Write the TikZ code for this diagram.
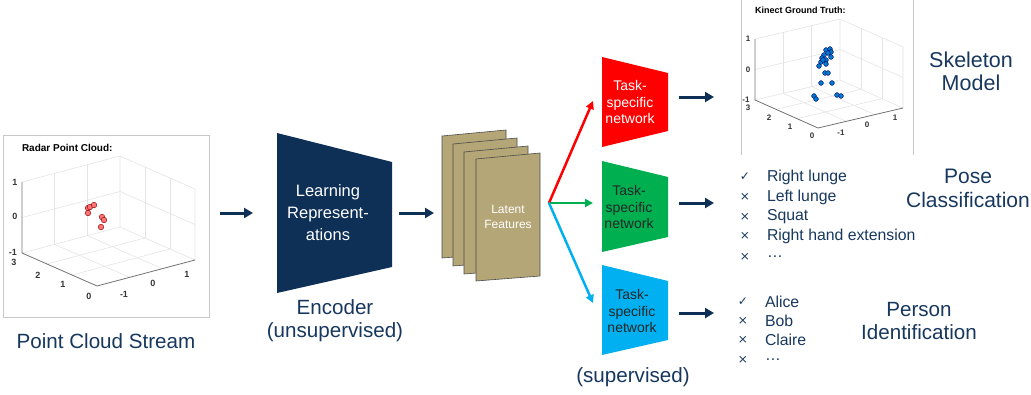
\documentclass[tikz,border=0pt]{standalone}
\usepackage{fontspec}
\setmainfont{Liberation Sans}
\newfontfamily\symfont{DejaVu Sans}
\usetikzlibrary{arrows.meta,calc}

\definecolor{navy}{HTML}{0E2F56}
\definecolor{txtblue}{HTML}{17375E}
\definecolor{latent}{HTML}{B5A677}
\definecolor{netred}{HTML}{FF0000}
\definecolor{netgreen}{HTML}{00B050}
\definecolor{netblue}{HTML}{00B0F0}
\definecolor{framegray}{HTML}{C8C8C8}
\definecolor{gridgray}{HTML}{E4E4E4}

% 3D axis box of a scatter plot: back corner, front corner, right corner, height
\newcommand{\AxisBox}[4]{%
  \coordinate (bA) at #1; \coordinate (bB) at #2; \coordinate (bC) at #3;
  \coordinate (bD) at ($(bA)+(bC)-(bB)$);
  \coordinate (tA) at ($(bA)+(0,-#4)$);
  \coordinate (tC) at ($(bC)+(0,-#4)$);
  \coordinate (tD) at ($(bD)+(0,-#4)$);
  \foreach \fr in {0.333,0.667}{
    \draw[gridline] ($(bA)!\fr!(bB)$) -- ($(bD)!\fr!(bC)$);
    \draw[gridline] ($(bA)!\fr!(bD)$) -- ($(bB)!\fr!(bC)$);
    \draw[gridline] ($(bA)!\fr!(bD)$) -- ($(tA)!\fr!(tD)$);
    \draw[gridline] ($(bD)!\fr!(bC)$) -- ($(tD)!\fr!(tC)$);
  }
  \draw[gridline] ($(bA)!.5!(tA)$) -- ($(bD)!.5!(tD)$) -- ($(bC)!.5!(tC)$);
  \draw[gridline] (bA) -- (bD) -- (bC) (bD) -- (tD) (tA) -- (tD) -- (tC) -- (bC);
  \draw[axisline] (tA) -- (bA) -- (bB) -- (bC);
}

\begin{document}
\begin{tikzpicture}[x=1pt,y=-1pt,
  every node/.style={inner sep=0pt,outer sep=0pt},
  flow/.style={navy,line width=3pt,-{Triangle[length=9pt,width=10pt]}},
  branch/.style={line width=2.5pt,-{Triangle[length=8pt,width=8pt]}},
  bigtext/.style={text=txtblue,font=\fontsize{20.6}{23}\selectfont,align=center},
  nettext/.style={font=\fontsize{14}{16.5}\selectfont,align=center},
  item/.style={text=txtblue,font=\fontsize{15.8}{17}\selectfont,anchor=west},
  checkmark/.style={text=txtblue,font=\symfont\fontsize{12}{11}\selectfont},
  tick/.style={text=black!80,font=\fontsize{9}{9}\selectfont\bfseries},
  ktick/.style={text=black!80,font=\fontsize{8}{8}\selectfont\bfseries},
  plottitle/.style={anchor=west,font=\fontsize{10}{10}\selectfont\bfseries},
  gridline/.style={gridgray,line width=0.6pt},
  axisline/.style={black!55,line width=0.8pt},
  sheet/.style={fill=latent,draw=black!70,line width=0.6pt},
  radarpt/.style={fill=red!55!white,draw=red!50!black,line width=0.4pt},
  kinectpt/.style={fill=blue!40!cyan!80!black,draw=blue!40!black,line width=0.4pt}]
\useasboundingbox (0,0) rectangle (1031,394);

% radar plot
\node[draw=framegray,line width=0.8pt,minimum width=206pt,minimum height=182pt] (radar) at (106,226) {};
\node[plottitle] (radartitle) at (22,148) {Radar Point Cloud:};
\AxisBox{(22,253)}{(97,286)}{(195,260)}{71}
\foreach \lab/\px/\py [count=\i] in {1/15/182,0/15/216,-1/13/252,3/14/262,2/38/275,1/63/284,0/89/296,-1/124/294,0/153/283,1/187/274}
  \node[tick] (rtick\i) at (\px,\py) {\lab};
\foreach \px/\py in {88/208,90/207,94/205,88/213,102/217,104/220,101/227}
  \filldraw[radarpt] (\px,\py) circle (2.8pt);
\node[bigtext] (stream) at (106,341) {Point Cloud Stream};

% encoder
\fill[navy] (277,133) -- (392,162) -- (392,267) -- (277,293) -- cycle;
\node[text=white,align=center,font=\fontsize{16.5}{22}\selectfont] (encoder) at (328,213) {Learning\\Represent-\\ations};
\node[bigtext] (enclabel) at (335,321) {Encoder\\(unsupervised)};

% latent feature sheets
\foreach \sx/\sy in {442/136,453/144,464/152,476/159}
  \filldraw[sheet] (\sx,\sy) -- ++(64,-6) -- ++(0,123) -- ++(-64,5) -- cycle;
\node[text=white,align=center,font=\fontsize{12}{15}\selectfont] (latent) at (508,217) {Latent\\Features};

% task specific networks
\fill[netred] (602,57) -- (668,73) -- (668,131) -- (602,147) -- cycle;
\fill[netgreen] (602,161) -- (668,177) -- (668,237) -- (602,252) -- cycle;
\fill[netblue] (602,265) -- (668,281) -- (668,340) -- (602,355) -- cycle;
\node[nettext,text=white] (netA) at (630,102) {Task-\\specific\\network};
\node[nettext,text=black!85] (netB) at (629,207) {Task-\\specific\\network};
\node[nettext,text=black!85] (netC) at (632,311) {Task-\\specific\\network};
\node[bigtext] (superv) at (633,377) {(supervised)};

% connectors
\coordinate (a1s) at (220,213); \coordinate (a1e) at (253,213);
\coordinate (a2s) at (399,213); \coordinate (a2e) at (434,213);
\coordinate (fork) at (549,203);
\coordinate (toA) at (593,101); \coordinate (toB) at (593,203); \coordinate (toC) at (593,303);
\draw[flow] (a1s) -- (a1e);
\draw[flow] (a2s) -- (a2e);
\draw[branch,netred] (fork) -- (toA);
\draw[branch,netgreen] (fork) -- (toB);
\draw[branch,netblue] (fork) -- (toC);
\foreach \yy/\nm in {97/A,203/B,313/C}{
  \coordinate (out\nm s) at (679,\yy); \coordinate (out\nm e) at (714,\yy);
  \draw[flow] (out\nm s) -- (out\nm e);
}

% kinect plot
\draw[framegray,line width=0.8pt] (741,0) -- (741,155) (913,0) -- (913,155);
\node[plottitle,font=\fontsize{9}{9}\selectfont\bfseries] (kinecttitle) at (755,10) {Kinect Ground Truth:};
\AxisBox{(755,100)}{(818,128)}{(903,108)}{61}
\foreach \lab/\px/\py [count=\i] in {1/748/39,0/748/70,-1/746/100,3/748/108,2/769/118,1/790/127,0/812/136,-1/841/133,0/867/125,1/895/118}
  \node[ktick] (ktick\i) at (\px,\py) {\lab};
\foreach \px/\py in {826/50,830/49,831/52,824/55,828/53,822/58,821/62,826/60,831/57,823/60,819/66,826/64,825/73,828/73,821/83,832/83,814/96,816/99,837/95,841/96}
  \filldraw[kinectpt] (\px,\py) circle (2.4pt);
\node[bigtext,font=\fontsize{21.5}{23}\selectfont] (skeleton) at (971,71) {Skeleton\\Model};

% pose classification
\foreach \txt/\yy/\sym [count=\i] in {Right lunge/177/✓,Left lunge/197/×,Squat/217/×,Right hand extension/236/×,…/257/×}{
  \node[checkmark] (pmark\i) at (745,\yy) {\sym};
  \node[item] (pose\i) at (767,\yy) {\txt};
}
\node[bigtext,font=\fontsize{21}{24}\selectfont] (posehead) at (968,188) {Pose\\Classification};

% person identification
\foreach \txt/\yy/\sym [count=\i] in {Alice/302/✓,Bob/321/×,Claire/340/×,…/360/×}{
  \node[checkmark] (imark\i) at (743,\yy) {\sym};
  \node[item] (person\i) at (765,\yy) {\txt};
}
\node[bigtext] (personhead) at (919,321) {Person\\Identification};
\end{tikzpicture}
\end{document}
